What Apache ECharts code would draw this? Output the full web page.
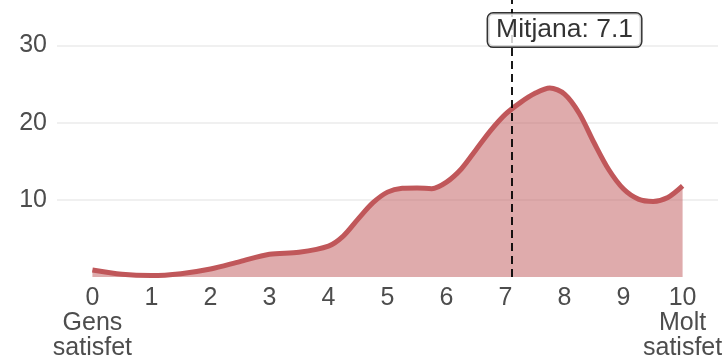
<!DOCTYPE html>
<html>
<head>
<meta charset="utf-8">
<script src="https://cdn.jsdelivr.net/npm/echarts@6/dist/echarts.min.js"></script>
<style>
html,body{margin:0;padding:0;background:#fff;}
#c{width:727px;height:361px;}
</style>
</head>
<body>
<div id="c"></div>
<script>
// Data
var xValues = [0, 0.5, 1, 1.5, 2, 2.5, 3, 3.5, 4, 4.25, 4.5, 4.75, 5, 5.25, 5.5, 5.75, 6, 6.25, 6.5, 6.75, 7, 7.25, 7.5, 7.75, 8, 8.25, 8.5, 8.75, 9, 9.25, 9.5, 9.75, 10];
var yValues = [0.9, 0.35, 0.18, 0.43, 1.03, 2.0, 2.95, 3.2, 4.0, 5.3, 7.5, 9.6, 11.0, 11.5, 11.55, 11.45, 12.3, 14.0, 16.5, 19.0, 21.1, 22.6, 23.8, 24.5, 23.7, 21.2, 17.4, 13.9, 11.4, 10.1, 9.8, 10.3, 11.8];
var xTicks = [0, 1, 2, 3, 4, 5, 6, 7, 8, 9, 10];
var xTickLabels = ['0\nGens\nsatisfet', '1', '2', '3', '4', '5', '6', '7', '8', '9', '10\nMolt\nsatisfet'];
var yTicks = [10, 20, 30];
var meanValue = 7.1;
var meanLabel = 'Mitjana: 7.1';
var meanLabelPos = [8, 32];

var font = 'Liberation Sans, Arial, sans-serif';
var lineData = xValues.map(function (x, i) { return [x, yValues[i]]; });

var chart = echarts.init(document.getElementById('c'), null, {renderer: 'canvas'});
chart.setOption({
  animation: false,
  backgroundColor: '#ffffff',
  grid: {left: 57, right: 9, top: 0, bottom: 82.3, containLabel: false},
  xAxis: {
    type: 'value', min: -0.6, max: 10.6,
    axisLine: {show: false}, axisTick: {show: false}, splitLine: {show: false},
    axisLabel: {
      customValues: xTicks,
      margin: 9,
      color: '#4d4d4d', fontSize: 25, lineHeight: 25, fontFamily: font,
      formatter: function (v) {
        var i = xTicks.indexOf(Math.round(v));
        return i >= 0 ? xTickLabels[i] : '';
      }
    }
  },
  yAxis: {
    type: 'value', min: 0, max: 35.9,
    axisLine: {show: false}, axisTick: {show: false},
    splitLine: {show: true, showMinLine: false, showMaxLine: false, lineStyle: {color: '#ebebeb', width: 1.5}},
    axisLabel: {
      customValues: yTicks,
      margin: 10,
      color: '#4d4d4d', fontSize: 25, fontFamily: font
    },
    interval: 10
  },
  series: [
    {
      type: 'line',
      data: lineData,
      smooth: 0.3,
      showSymbol: false,
      symbol: 'none',
      lineStyle: {color: '#c0575a', width: 5},
      areaStyle: {color: '#c0575a', opacity: 0.5, origin: 'start'},
      z: 2,
      markLine: {
        silent: true,
        symbol: ['none', 'none'],
        label: {show: false},
        lineStyle: {color: '#000', type: [8, 5], width: 1.8},
        data: [{xAxis: meanValue}]
      }
    },
    {
      type: 'scatter',
      data: [meanLabelPos],
      symbolSize: 0,
      z: 10,
      silent: true,
      label: {
        show: true,
        position: 'inside',
        formatter: meanLabel,
        color: '#000', fontSize: 26.5, fontFamily: font,
        textBorderWidth: 0,
        backgroundColor: '#fff', borderColor: '#000', borderWidth: 1.5, borderRadius: 5,
        padding: [4, 8, 2, 8]
      }
    }
  ]
});
</script>
</body>
</html>
